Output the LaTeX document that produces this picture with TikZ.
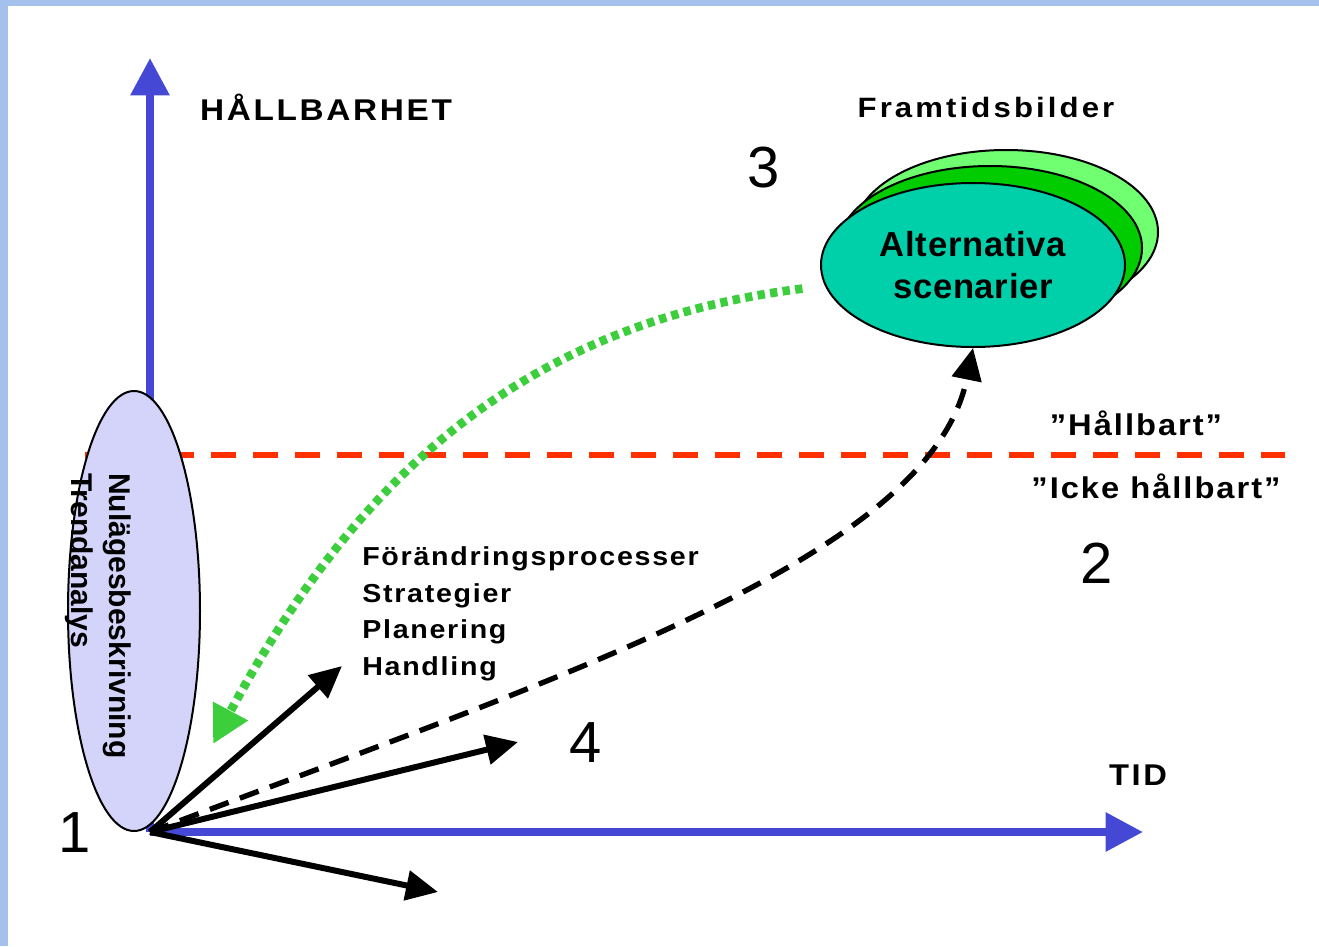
\documentclass[tikz,border=0pt]{standalone}
\usepackage{fontspec}
\setmainfont{Liberation Sans}
\usetikzlibrary{arrows.meta,shapes.geometric}
\definecolor{ram}{RGB}{164,192,236}
\definecolor{axelbla}{RGB}{68,72,212}
\definecolor{lila}{RGB}{212,212,250}
\definecolor{turkos}{RGB}{0,208,170}
\definecolor{morkgron}{RGB}{0,204,0}
\definecolor{ljusgron}{RGB}{112,255,112}
\definecolor{prickgron}{RGB}{60,206,60}
\definecolor{gransrod}{RGB}{255,48,0}
\newcommand{\sperr}[1]{\addfontfeature{LetterSpace=#1}}
\tikzset{
  axel/.style = {draw=axelbla, line width=6pt, -{Triangle[length=28pt,width=28pt]}},
  pil/.style = {line width=4.5pt, -{Triangle[length=24pt,width=22pt]}},
  streckad/.style = {pil, line width=4pt, dash pattern=on 15pt off 9pt},
  prickad/.style = {draw=prickgron, line width=6.5pt, dash pattern=on 5.5pt off 4pt,
    -{Triangle[length=28pt,width=28pt]}},
  scen/.style = {ellipse, draw, line width=1.5pt, inner sep=0pt,
    minimum width=228pt, minimum height=123pt},
  etikett/.style = {inner sep=0pt, xscale=1.09, font=\bfseries\fontsize{22.5}{27}\selectfont\sperr{6}},
  siffra/.style = {inner sep=0pt, font=\fontsize{43.5}{50}\selectfont}
}

\begin{document}
\begin{tikzpicture}[x=0.75pt,y=-0.75pt]
  \useasboundingbox (0,0) rectangle (1319,946);
  \fill[ram] (0,0) rectangle (1319,946);
  \fill[white] (8,6) rectangle (1319,946);

  % axlar och gräns
  \coordinate (O) at (150,832);
  \coordinate (ytopp) at (150,58);
  \coordinate (xslut) at (1143,832);
  \coordinate (grans1) at (85,455);
  \coordinate (grans2) at (1285,455);
  \draw[gransrod, line width=5pt, dash pattern=on 19pt off 12.5pt] (grans1) -- (grans2);
  \draw[axel] (O) -- (ytopp);

  % nuläge
  \node[ellipse, draw, line width=1.5pt, fill=lila, inner sep=0pt,
    minimum width=99pt, minimum height=330pt] (nulage) at (134,611) {};
  \node[rotate=-90, anchor=north west, align=left, inner sep=0pt,
    font=\bfseries\fontsize{22.5}{28.5}\selectfont] (nulagetext) at (132,473)
    {Nulägesbeskrivning\\Trendanalys};

  % framtidsbilder
  \node[scen, fill=ljusgron] (bild2) at (1006,232) {};
  \node[scen, fill=morkgron] (bild1) at (990,248) {};
  \node[scen, fill=turkos, align=center,
    font=\bfseries\fontsize{26}{31.5}\selectfont\sperr{2}] (alt) at (973,265)
    {Alternativa\\scenarier};

  \draw[axel] (O) -- (xslut);

  % texter
  \node[etikett, xscale=1.02, font=\bfseries\fontsize{22.5}{27}\selectfont\sperr{8}] (hallbarhet) at (326,107) {HÅLLBARHET};
  \node[etikett, xscale=1.02, font=\bfseries\fontsize{21}{24}\selectfont\sperr{10}] (framtid) at (986,107) {Framtidsbilder};
  \node[etikett, font=\bfseries\fontsize{22.5}{27}\selectfont\sperr{8}] (tid) at (1138,775) {TID};
  \node[etikett] (hallbart) at (1136,423) {”Hållbart”};
  \node[etikett] (ickehallbart) at (1156,486) {”Icke hållbart”};
  \node[etikett, anchor=west, align=left, xscale=1.01,
    font=\bfseries\fontsize{19.5}{27.4}\selectfont\sperr{6}] (process) at (362,614)
    {Förändringsprocesser\\Strategier\\Planering\\Handling};
  \node[siffra] (n1) at (75,833) {1};
  \node[siffra] (n2) at (1097,563) {2};
  \node[siffra] (n3) at (764,168) {3};
  \node[siffra] (n4) at (586,743) {4};

  % pilar
  \coordinate (h1) at (342,666);
  \coordinate (h2) at (518,742);
  \coordinate (h3) at (438,892);
  \coordinate (gslut) at (213,744);
  \draw[pil] (O) -- (h1);
  \draw[pil] (O) -- (h2);
  \draw[pil] (O) -- (h3);
  \draw[streckad] (O) .. controls (550,680) and (930,560) .. (alt.south);
  \draw[prickad, shorten <=17pt] (alt.188) .. controls (550,320) and (370,450) .. (gslut);
\end{tikzpicture}
\end{document}
